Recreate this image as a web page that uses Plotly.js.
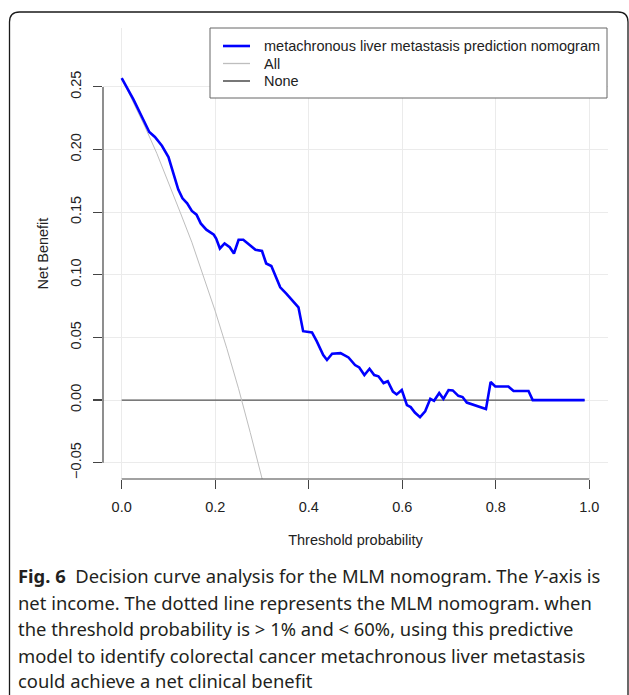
<!DOCTYPE html>
<html>
<head>
<meta charset="utf-8">
<script src="https://cdn.plot.ly/plotly-3.0.1.min.js"></script>
<style>
html,body{margin:0;padding:0;background:#fff;}
#chart{width:629px;height:695px;}
</style>
</head>
<body>
<div id="chart"></div>
<script>
// ---- data ----
const thresholds = [0.000,0.025,0.046,0.059,0.071,0.086,0.100,0.110,0.121,0.130,0.140,0.150,0.160,0.169,0.181,0.197,0.202,0.210,0.220,0.231,0.240,0.250,0.260,0.273,0.286,0.300,0.309,0.320,0.339,0.352,0.378,0.388,0.407,0.417,0.431,0.439,0.450,0.468,0.485,0.499,0.508,0.519,0.530,0.540,0.549,0.553,0.560,0.569,0.580,0.588,0.599,0.610,0.618,0.627,0.638,0.649,0.660,0.668,0.679,0.688,0.699,0.708,0.720,0.729,0.738,0.779,0.789,0.799,0.827,0.838,0.870,0.879,0.990];
const nomogramNB = [0.257,0.240,0.224,0.214,0.210,0.203,0.194,0.181,0.168,0.161,0.157,0.151,0.148,0.141,0.136,0.132,0.129,0.121,0.125,0.122,0.117,0.128,0.128,0.124,0.120,0.119,0.109,0.107,0.090,0.085,0.074,0.055,0.054,0.047,0.036,0.032,0.037,0.0375,0.034,0.028,0.026,0.020,0.025,0.020,0.019,0.017,0.0136,0.015,0.0068,0.0045,0.008,-0.004,-0.0056,-0.010,-0.0136,-0.009,0.001,-0.0006,0.0056,0.001,0.008,0.0077,0.0034,0.0024,-0.002,-0.0072,0.0144,0.0108,0.0108,0.0072,0.0072,0.000,0.000];
const allT  = [0.000,0.025,0.050,0.075,0.100,0.125,0.150,0.175,0.200,0.225,0.250,0.275,0.300,0.310];
const allNB = [0.257,0.238,0.218,0.197,0.174,0.150,0.126,0.099,0.071,0.041,0.009,-0.026,-0.062,-0.077];
const noneT  = [0.000,0.990];
const noneNB = [0.000,0.000];
const seriesNames = ["metachronous liver metastasis prediction nomogram","All","None"];
const xTickVals = [0,0.2,0.4,0.6,0.8,1.0];
const xTickText = ["0.0","0.2","0.4","0.6","0.8","1.0"];
const yTickVals = [-0.05,0,0.05,0.10,0.15,0.20,0.25];
const yTickText = ["\u22120.05","0.00","0.05","0.10","0.15","0.20","0.25"];
const captionLines = [
  "<b>Fig. 6</b>&nbsp; Decision curve analysis for the MLM nomogram. The <i>Y</i>-axis is",
  "net income. The dotted line represents the MLM nomogram. when",
  "the threshold probability is &gt; 1% and &lt; 60%, using this predictive",
  "model to identify colorectal cancer metachronous liver metastasis",
  "could achieve a net clinical benefit"
];

// ---- layout helpers (pixel -> paper) ----
const W = 629, H = 695;
const M = {l:103, r:21, t:28, b:216};
const PW = W - M.l - M.r, PH = H - M.t - M.b;
const px = v => (v - M.l) / PW;
const py = v => (H - M.b - v) / PH;

const colors = ["#0000FF","#BEBEBE","#555555"];
const widths = [2.6, 1, 1.3];
const FONT = "Liberation Sans, Arial, sans-serif";

const traces = [
  {x: noneT, y: noneNB, mode:"lines", name: seriesNames[2], line:{color:colors[2], width:widths[2]}, showlegend:false},
  {x: allT, y: allNB, mode:"lines", name: seriesNames[1], line:{color:colors[1], width:widths[1]}, showlegend:false},
  {x: thresholds, y: nomogramNB, mode:"lines", name: seriesNames[0], line:{color:colors[0], width:widths[0]}, showlegend:false}
];

const shapes = [];
const annotations = [];

// frame around figure
shapes.push({type:"path", xref:"paper", yref:"paper",
  path:`M ${px(9.5)},${py(700)} L ${px(9.5)},${py(22)} Q ${px(9.5)},${py(12)} ${px(19.5)},${py(12)} L ${px(618)},${py(12)} Q ${px(628)},${py(12)} ${px(628)},${py(22)} L ${px(628)},${py(700)}`,
  line:{color:"#1a1a1a", width:1.3}});

// R-style axis lines
shapes.push({type:"line", xref:"paper", yref:"y", x0:0, x1:0, y0:yTickVals[0], y1:yTickVals[yTickVals.length-1], line:{color:"#444", width:1.2}});
shapes.push({type:"line", xref:"x", yref:"paper", x0:xTickVals[0], x1:xTickVals[xTickVals.length-1], y0:0, y1:0, line:{color:"#444", width:1.2}});

// legend box
shapes.push({type:"rect", xref:"paper", yref:"paper", x0:px(210), x1:px(607), y0:py(98), y1:py(28),
  line:{color:"#666", width:1}, fillcolor:"#fff", layer:"above"});
const legY = [46, 63.5, 81];
seriesNames.forEach((n,i)=>{
  shapes.push({type:"line", xref:"paper", yref:"paper", x0:px(223), x1:px(250), y0:py(legY[i]), y1:py(legY[i]),
    line:{color:colors[i], width: i===0?2.6:widths[i]+0.3}, layer:"above"});
  annotations.push({xref:"paper", yref:"paper", x:px(262), y:py(legY[i]), xanchor:"left", yanchor:"middle",
    text:n, showarrow:false, font:{family:FONT, size:14.5, color:"#222"}});
});

// caption
const capY = [575.5, 602, 628.5, 655, 681];
captionLines.forEach((s,i)=>{
  annotations.push({xref:"paper", yref:"paper", x:px(16), y:py(capY[i]), xanchor:"left", yanchor:"middle",
    text:s, showarrow:false, font:{family:"Noto Sans, Open Sans, sans-serif", size:18.4, color:"#231F20"}});
});

const layout = {
  width: W, height: H,
  margin: {l:M.l, r:M.r, t:M.t, b:M.b, pad:0},
  paper_bgcolor:"#fff", plot_bgcolor:"#fff",
  font:{family:FONT, size:14.5, color:"#222"},
  xaxis:{range:[-0.04,1.04], tickvals:xTickVals, ticktext:xTickText, ticks:"outside", ticklen:9, tickwidth:1.2, tickcolor:"#444",
    showgrid:true, gridcolor:"#EBEBEB", gridwidth:1, zeroline:false, showline:false, ticklabelstandoff:6,
    title:{text:"Threshold probability", font:{family:FONT, size:14.5, color:"#222"}, standoff:20}, automargin:false},
  yaxis:{range:[-0.063,0.297], tickvals:yTickVals, ticktext:yTickText, ticks:"outside", ticklen:9, tickwidth:1.2, tickcolor:"#444",
    tickangle:-90, showgrid:true, gridcolor:"#EBEBEB", gridwidth:1, zeroline:false, showline:false, ticklabelstandoff:6,
    title:{text:"Net Benefit", font:{family:FONT, size:14.5, color:"#222"}, standoff:16}, automargin:false},
  shapes: shapes,
  annotations: annotations,
  showlegend:false
};

Plotly.newPlot("chart", traces, layout, {displayModeBar:false, staticPlot:true});
</script>
</body>
</html>
